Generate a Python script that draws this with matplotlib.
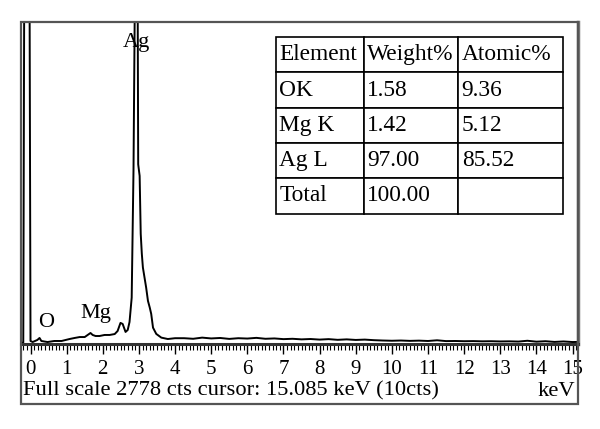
import matplotlib
matplotlib.use('Agg')
import matplotlib.pyplot as plt
from matplotlib.patches import Rectangle
from matplotlib.ticker import MultipleLocator

# Spektrum EDS (keV, zliczenia)
energy_kev = [-0.26, -0.20, -0.17, -0.15, -0.05, -0.03, 0.0, 0.06, 0.19, 0.25, 0.30,
              0.47, 0.66, 0.86, 1.08, 1.22, 1.36, 1.50, 1.66, 1.72, 1.80, 1.91,
              2.05, 2.19, 2.33, 2.41, 2.49, 2.55, 2.63, 2.69, 2.74, 2.80, 2.85,
              2.90, 2.96, 2.98, 3.02, 3.05, 3.08, 3.11, 3.20, 3.25, 3.30, 3.34,
              3.39, 3.48, 3.62, 3.80, 4.00, 4.25, 4.50, 4.75, 5.00, 5.25, 5.50,
              5.75, 6.00, 6.25, 6.50, 6.75, 7.00, 7.25, 7.50, 7.75, 8.00, 8.25,
              8.50, 8.75, 9.00, 9.25, 9.50, 9.75, 10.00, 10.25, 10.50, 10.75,
              11.00, 11.25, 11.50, 11.75, 12.00, 12.25, 12.50, 12.75, 13.00,
              13.25, 13.50, 13.75, 14.00, 14.25, 14.50, 14.75, 15.00, 15.15]
counts = [10, 12, 3500, 3500, 3500, 3500, 26, 17, 35, 52, 26,
          17, 26, 26, 43, 52, 60, 60, 95, 78, 69, 69,
          78, 78, 86, 112, 182, 173, 104, 121, 190, 400, 1500,
          3500, 3500, 1550, 1450, 950, 780, 660, 487, 372, 314, 260,
          141, 87, 55, 43, 50, 50, 45, 55, 48, 52, 44,
          50, 47, 53, 45, 48, 42, 45, 40, 43, 38, 42,
          36, 40, 35, 38, 33, 30, 28, 30, 27, 29,
          26, 32, 25, 26, 24, 25, 23, 24, 22,
          23, 21, 28, 20, 24, 18, 22, 17, 18]

full_scale = 2778

peak_labels = ['O', 'Mg', 'Ag']
peak_x = [0.44, 1.81, 2.92]
peak_y = [182, 260, 2604]

table_cols = ['Element', 'Weight%', 'Atomic%']
table_rows = [['OK', '1.58', '9.36'],
              ['Mg K', '1.42', '5.12'],
              ['Ag L', '97.00', '85.52'],
              ['Total', '100.00', '']]

serif = 'Liberation Serif'
W, H = 600, 429

fig = plt.figure(figsize=(6, 4.29), dpi=100)

# zewnetrzna ramka
fig.patches.append(Rectangle((21 / W, 1 - 404 / H), 557 / W, 382 / H,
                             transform=fig.transFigure, fill=False,
                             edgecolor='#555555', linewidth=1.6))

ax = fig.add_axes([21 / W, 1 - 344 / H, 557 / W, 322 / H])
ax.plot(energy_kev, counts, color='black', linewidth=1.4)
ax.set_xlim(-0.263, 15.15)
ax.set_ylim(0, full_scale)
ax.set_yticks([])

ax.xaxis.set_major_locator(MultipleLocator(1))
ax.xaxis.set_minor_locator(MultipleLocator(0.1))
ax.tick_params(axis='x', which='major', length=7.5, width=1.0, pad=4,
               labelsize=15, direction='out')
ax.tick_params(axis='x', which='minor', length=4.5, width=0.8, direction='out')
for lab in ax.get_xticklabels():
    lab.set_family(serif)

for s in ['left', 'top']:
    ax.spines[s].set_color('#333333')
    ax.spines[s].set_linewidth(1.4)
ax.spines['right'].set_color('#777777')
ax.spines['right'].set_linewidth(2.5)
ax.spines['bottom'].set_color('#333333')
ax.spines['bottom'].set_linewidth(2.2)

for lab, x, y in zip(peak_labels, peak_x, peak_y):
    ax.text(x, y, lab, family=serif, fontsize=16, ha='center', va='center')

tbl = ax.table(cellText=table_rows, colLabels=table_cols, cellLoc='left',
               colLoc='left', colWidths=[88, 94, 105],
               bbox=[0.458, 0.405, 0.515, 0.548])
tbl.auto_set_font_size(False)
for (r, c), cell in tbl.get_celld().items():
    cell.set_linewidth(1.2)
    cell.set_edgecolor('black')
    cell.PAD = 0.035
    cell.get_text().set_fontsize(16.8)
    cell.get_text().set_family(serif)

fig.text(23 / W, 1 - 391 / H, 'Full scale 2778 cts cursor: 15.085 keV (10cts)',
         family=serif, fontsize=16.2, ha='left', va='center')
fig.text(575 / W, 1 - 391 / H, 'keV', family=serif, fontsize=16.2,
         ha='right', va='center')

fig.savefig('out.png', dpi=100)
